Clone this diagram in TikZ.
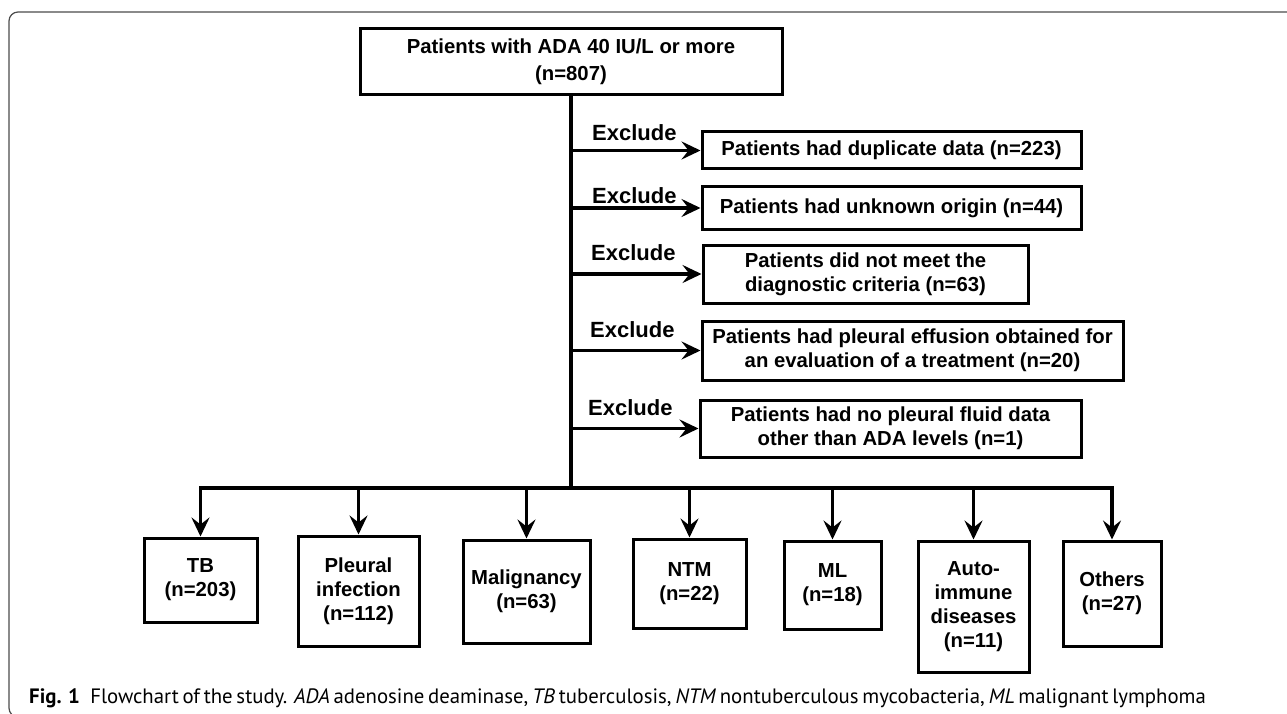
\documentclass[tikz,border=0pt]{standalone}
\usepackage{fontspec}
\setmainfont{Liberation Sans}
\newfontfamily\capfont{PT Sans}
\usetikzlibrary{arrows.meta}

\begin{document}
\begin{tikzpicture}[x=1pt, y=-1pt,
  block/.style={draw, line width=3pt, align=center, inner sep=0pt, font=\fontsize{20.3}{24}\selectfont\bfseries},
  arr/.style={-{Stealth[length=19pt, width=18pt, inset=7pt]}, line width=3.3pt},
  trunk/.style={line width=3.3pt, line cap=rect},
  exlabel/.style={anchor=base west, inner sep=0pt, font=\fontsize{22}{26}\selectfont\bfseries}]

  \useasboundingbox (0,0) rectangle (1287,714);

  % Frame
  \draw[black!70, line width=1.2pt, rounded corners=9pt] (1300,12) -- (9,12) -- (9,717) -- (60,717);

  % Start
  \node[block, minimum width=422, minimum height=66] (top) at (571,62) {Patients with ADA 40 IU/L or more\\[3pt](n=807)};

  % Exclusions
  \node[block, minimum width=379, minimum height=37] (ex1) at (891.5,150.5) {Patients had duplicate data (n=223)};
  \node[block, minimum width=379, minimum height=42] (ex2) at (891.5,208) {Patients had unknown origin (n=44)};
  \node[block, minimum width=325, minimum height=58] (ex3) at (865.5,274) {Patients did not meet the\\diagnostic criteria (n=63)};
  \node[block, minimum width=421, minimum height=59] (ex4) at (912.5,350.5) {Patients had pleural effusion obtained for\\an evaluation of a treatment (n=20)};
  \node[block, minimum width=381, minimum height=57] (ex5) at (890.5,428.5) {Patients had no pleural fluid data\\other than ADA levels (n=1)};

  % Labels
  \node[exlabel] (lab1) at (592,141) {Exclude};
  \node[exlabel] (lab2) at (592,204) {Exclude};
  \node[exlabel] (lab3) at (591,260) {Exclude};
  \node[exlabel] (lab4) at (590,337) {Exclude};
  \node[exlabel] (lab5) at (588,415) {Exclude};

  % Diagnoses
  \node[block, minimum width=113, minimum height=84] (tb) at (200.5,580) {TB\\(n=203)};
  \node[block, minimum width=121, minimum height=110] (pi) at (358.5,591) {Pleural\\infection\\(n=112)};
  \node[block, minimum width=127, minimum height=103] (mal) at (526.5,591.5) {Malignancy\\(n=63)};
  \node[block, minimum width=113, minimum height=89] (ntm) at (689.5,583.5) {NTM\\(n=22)};
  \node[block, minimum width=97, minimum height=88] (ml) at (832.5,585) {ML\\(n=18)};
  \node[block, minimum width=111, minimum height=131] (aid) at (973.5,606.5) {Auto-\\immune\\diseases\\(n=11)};
  \node[block, minimum width=98, minimum height=105] (oth) at (1112,593.5) {Others\\(n=27)};

  % Trunk and bar
  \coordinate (split) at (571,488);
  \draw[trunk] (top.south) -- (split);
  \draw[trunk] (split -| tb.north) -- (split -| oth.north);

  % Exclude arrows
  \draw[arr] (top.south |- ex1.west) -- (ex1.west);
  \draw[arr] (top.south |- ex2.west) -- (ex2.west);
  \draw[arr] (top.south |- ex3.west) -- (ex3.west);
  \draw[arr] (top.south |- ex4.west) -- (ex4.west);
  \draw[arr] (top.south |- ex5.west) -- (ex5.west);

  % Down arrows
  \draw[arr] (split -| tb.north) -- (tb.north);
  \draw[arr] (split -| pi.north) -- (pi.north);
  \draw[arr] (split -| mal.north) -- (mal.north);
  \draw[arr] (split -| ntm.north) -- (ntm.north);
  \draw[arr] (split -| ml.north) -- (ml.north);
  \draw[arr] (split -| aid.north) -- (aid.north);
  \draw[arr] (split -| oth.north) -- (oth.north);

  % Caption
  \node[anchor=base west, inner sep=0pt, font=\capfont\fontsize{20.8}{24}\selectfont] (cap) at (29,703) {\makebox[1149pt][s]{\textbf{Fig. 1}\hspace{0.5em}Flowchart of the study. \textit{ADA} adenosine deaminase, \textit{TB} tuberculosis, \textit{NTM} nontuberculous mycobacteria, \textit{ML} malignant lymphoma}};

\end{tikzpicture}
\end{document}
